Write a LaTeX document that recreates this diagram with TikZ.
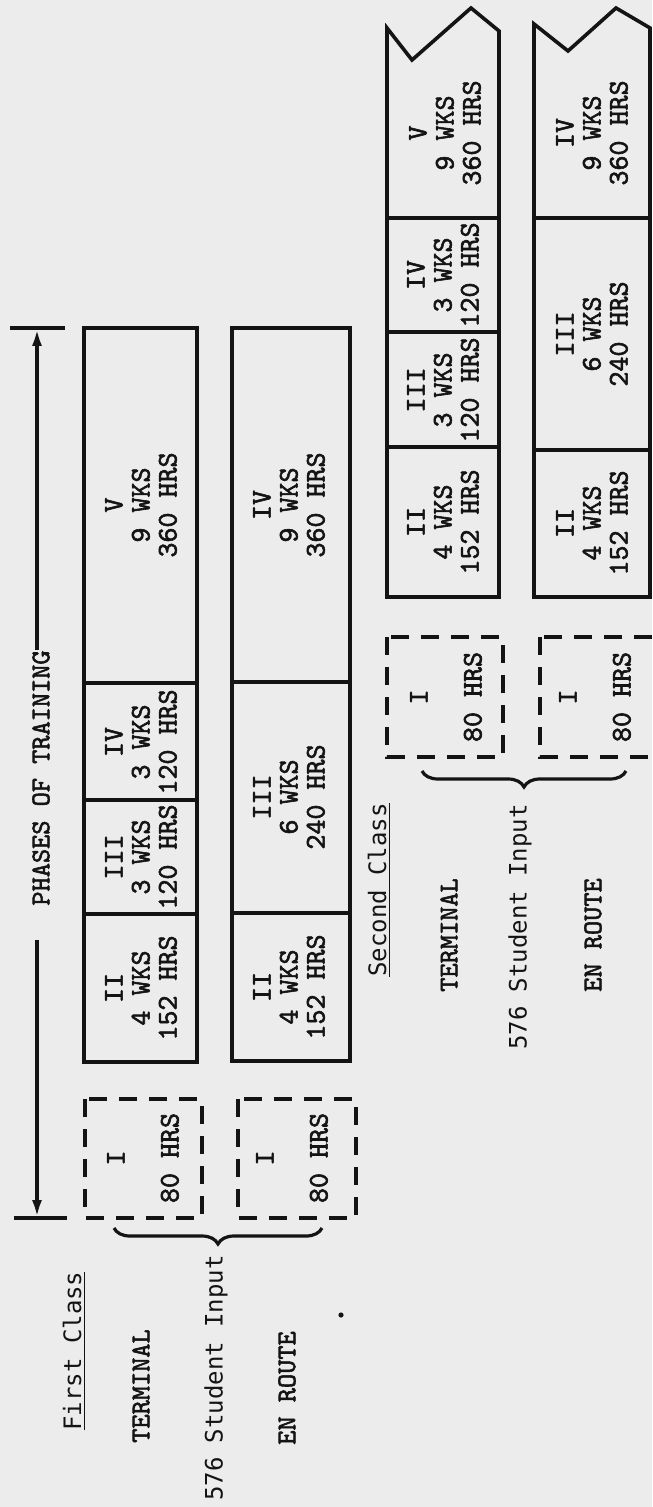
\documentclass[tikz,border=0pt]{standalone}
\usepackage{fontspec}
\usetikzlibrary{arrows.meta,decorations.pathreplacing}
\newfontfamily\typefont{lmmono10-regular.otf}[FakeBold=2]
\newfontfamily\classfont{DejaVu Sans Mono}
\definecolor{paper}{gray}{0.925}
\definecolor{ink}{gray}{0.08}
\tikzset{
  box/.style={draw=ink, line width=1.8pt},
  dashbox/.style={draw=ink, line width=1.8pt, dash pattern=on 9pt off 6pt},
  cell/.style={rotate=90, align=center, inner sep=0pt, text=ink,
    font=\typefont\fontsize{14.3}{13.5}\selectfont},
  lbl/.style={rotate=90, inner sep=0pt, text=ink,
    font=\typefont\fontsize{13.5}{13.5}\selectfont},
  cls/.style={rotate=90, inner sep=0pt, text=ink,
    font=\classfont\fontsize{12}{12}\selectfont},
  brc/.style={draw=ink, line width=1.6pt, decorate, decoration={brace, amplitude=8pt}}
}
\begin{document}
\begin{tikzpicture}[x=0.5pt, y=-0.5pt]
  \path[use as bounding box, fill=paper] (0,0) rectangle (652,1507);
  \clip (0,0) rectangle (652,1507);

  % Phases of training
  \node[lbl] (phases) at (41,778) {PHASES OF TRAINING};
  \coordinate (ptop) at (37,328);
  \coordinate (pbot) at (37,1218);
  \draw[box] (10,328) -- (65,328);
  \draw[box] (14,1218) -- (67,1218);
  \draw[box, -{Latex[length=9pt, width=5pt]}] (phases.east -| ptop) -- (ptop);
  \draw[box, -{Latex[length=9pt, width=5pt]}] ([yshift=-17pt]phases.west -| pbot) -- (pbot);

  % First Class - terminal
  \draw[box] (84,328) rectangle (197,1062);
  \foreach \y in {683,800,914}
    \draw[box] (84,\y) -- (197,\y);
  \draw[dashbox] (85,1099) rectangle (202,1218);
  \node[cell] (ta5) at (141,505) {V\\9 WKS\\360 HRS};
  \node[cell] (ta4) at (141,742) {IV\\3 WKS\\120 HRS};
  \node[cell] (ta3) at (141,857) {III\\3 WKS\\120 HRS};
  \node[cell] (ta2) at (141,988) {II\\4 WKS\\152 HRS};
  \node[cell] (ta1) at (143,1158) {I\\[13.5pt]80 HRS};

  % First Class - en route
  \draw[box] (232,328) rectangle (350,1061);
  \foreach \y in {682,913}
    \draw[box] (232,\y) -- (350,\y);
  \draw[dashbox] (238,1099) rectangle (356,1218);
  \node[cell] (ra4) at (289,505) {IV\\9 WKS\\360 HRS};
  \node[cell] (ra3) at (289,797) {III\\6 WKS\\240 HRS};
  \node[cell] (ra2) at (289,987) {II\\4 WKS\\152 HRS};
  \node[cell] (ra1) at (292,1158) {I\\[13.5pt]80 HRS};

  \draw[brc] (322,1228) -- (114,1228);
  \node[cls] (firstcls) at (74,1351) {\underline{First Class}};
  \node[lbl] (term1) at (141,1386) {TERMINAL};
  \node[cls] (input1) at (216,1378) {576 Student Input};
  \node[lbl] (route1) at (287,1388) {EN ROUTE};
  \fill[ink] (341,1315) circle (1.3pt);

  % Second Class - terminal
  \draw[box] (387,597) -- (387,28) -- (412,60) -- (471,8) -- (499,31) -- (499,597) -- cycle;
  \foreach \y in {218,332,447}
    \draw[box] (387,\y) -- (499,\y);
  \draw[dashbox] (387,637) rectangle (503,757);
  \node[cell] (tb5) at (445,133) {V\\9 WKS\\360 HRS};
  \node[cell] (tb4) at (443,275) {IV\\3 WKS\\120 HRS};
  \node[cell] (tb3) at (443,390) {III\\3 WKS\\120 HRS};
  \node[cell] (tb2) at (443,522) {II\\4 WKS\\152 HRS};
  \node[cell] (tb1) at (446,697) {I\\[13.5pt]80 HRS};

  % Second Class - en route
  \draw[box] (534,597) -- (534,24) -- (568,51) -- (616,8) -- (650,28) -- (650,597) -- cycle;
  \foreach \y in {218,450}
    \draw[box] (534,\y) -- (650,\y);
  \draw[dashbox] (540,637) rectangle (656,757);
  \node[cell] (rb4) at (592,133) {IV\\9 WKS\\360 HRS};
  \node[cell] (rb3) at (592,334) {III\\6 WKS\\240 HRS};
  \node[cell] (rb2) at (592,523) {II\\4 WKS\\152 HRS};
  \node[cell] (rb1) at (595,697) {I\\[13.5pt]80 HRS};

  \draw[brc] (626,771) -- (422,771);
  \node[cls] (secondcls) at (379,890) {\underline{Second Class}};
  \node[lbl] (term2) at (449,935) {TERMINAL};
  \node[cls] (input2) at (520,927) {576 Student Input};
  \node[lbl] (route2) at (593,935) {EN ROUTE};
\end{tikzpicture}
\end{document}
